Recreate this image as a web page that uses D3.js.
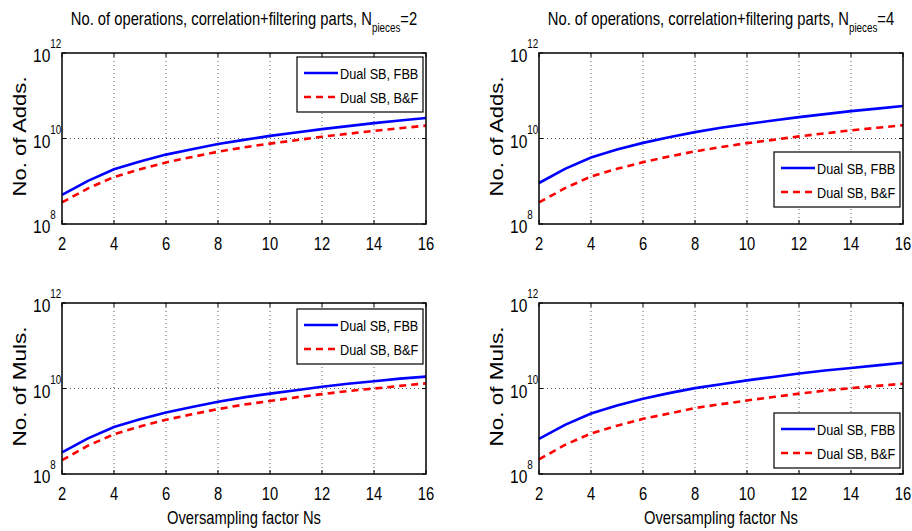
<!DOCTYPE html>
<html>
<head>
<meta charset="utf-8">
<script src="https://cdn.jsdelivr.net/npm/d3@7"></script>
<style>
  body { margin: 0; background: #fff; }
  text { font-family: "Liberation Sans", Arial, sans-serif; fill: #000; }
</style>
</head>
<body>
<script>
var w = 912;
var h = 531;

// data (Ns = 2..16)
var ns = [2, 3, 4, 5, 6, 7, 8, 9, 10, 11, 12, 13, 14, 15, 16];

var adds2FBB = [4.8e8, 1.02e9, 1.9e9, 2.9e9, 4.2e9, 5.6e9, 7.4e9, 9.3e9, 1.15e10, 1.38e10, 1.66e10, 1.95e10, 2.29e10, 2.63e10, 3.02e10];
var adds2BF = [3.2e8, 6.8e8, 1.26e9, 1.9e9, 2.75e9, 3.7e9, 4.9e9, 6.2e9, 7.6e9, 9.1e9, 1.1e10, 1.29e10, 1.51e10, 1.74e10, 2.0e10];
var adds4FBB = [9.1e8, 1.95e9, 3.6e9, 5.5e9, 7.9e9, 1.07e10, 1.41e10, 1.78e10, 2.19e10, 2.63e10, 3.16e10, 3.72e10, 4.37e10, 5.0e10, 5.75e10];
var adds4BF = [3.2e8, 6.9e8, 1.29e9, 1.95e9, 2.8e9, 3.8e9, 5.0e9, 6.3e9, 7.8e9, 9.3e9, 1.12e10, 1.32e10, 1.55e10, 1.78e10, 2.04e10];
var muls2FBB = [3.2e8, 6.8e8, 1.26e9, 1.9e9, 2.75e9, 3.7e9, 4.9e9, 6.2e9, 7.6e9, 9.1e9, 1.1e10, 1.29e10, 1.48e10, 1.7e10, 1.9e10];
var muls2BF = [2.1e8, 4.6e8, 8.5e8, 1.29e9, 1.86e9, 2.5e9, 3.3e9, 4.2e9, 5.1e9, 6.2e9, 7.4e9, 8.7e9, 1.0e10, 1.15e10, 1.32e10];
var muls4FBB = [6.6e8, 1.41e9, 2.6e9, 4.0e9, 5.75e9, 7.8e9, 1.02e10, 1.26e10, 1.55e10, 1.86e10, 2.24e10, 2.63e10, 3.02e10, 3.47e10, 4.0e10];
var muls4BF = [2.2e8, 4.8e8, 8.9e8, 1.35e9, 1.95e9, 2.6e9, 3.5e9, 4.3e9, 5.25e9, 6.3e9, 7.6e9, 8.9e9, 1.02e10, 1.15e10, 1.29e10];

var xTicks = [2, 4, 6, 8, 10, 12, 14, 16];
var yTicks = [1e8, 1e10, 1e12];
var seriesNames = ["Dual SB, FBB", "Dual SB, B&F"];
var seriesColors = ["#0000ff", "#ff0000"];

// panel layout
var panels = [
  { left: 62, top: 53, fbb: adds2FBB, bf: adds2BF, ylabel: "No. of Adds.", pieces: 2, legendTop: 57, xlabel: false },
  { left: 539, top: 53, fbb: adds4FBB, bf: adds4BF, ylabel: "No. of Adds.", pieces: 4, legendTop: 152, xlabel: false },
  { left: 62, top: 303, fbb: muls2FBB, bf: muls2BF, ylabel: "No. of Muls.", pieces: null, legendTop: 309, xlabel: true },
  { left: 539, top: 303, fbb: muls4FBB, bf: muls4BF, ylabel: "No. of Muls.", pieces: null, legendTop: 413, xlabel: true },
];
var pw = 364;
var ph = 171;
var narrow = 0.82; // no narrow font installed, squeeze Liberation Sans instead

var svg = d3.select("body").append("svg").attr("width", w).attr("height", h);

// condensed text anchored at (x, y)
function label(parent, x, y, anchor, size) {
  return parent
    .append("g")
    .attr("transform", `translate(${x},${y}) scale(${narrow},1)`)
    .append("text")
    .attr("text-anchor", anchor)
    .style("font-size", size + "px");
}

panels.forEach(function (p) {
  var xScale = d3.scaleLinear().domain([2, 16]).range([p.left, p.left + pw]);
  var yScale = d3.scaleLog().domain([1e8, 1e12]).range([p.top + ph, p.top]);
  var g = svg.append("g");

  // grid
  g.selectAll(".vgrid")
    .data(xTicks.slice(1, -1))
    .enter()
    .append("line")
    .attr("x1", (d) => xScale(d))
    .attr("x2", (d) => xScale(d))
    .attr("y1", p.top)
    .attr("y2", p.top + ph)
    .attr("stroke", "#333")
    .attr("stroke-width", 0.8)
    .attr("stroke-dasharray", "1,3");
  g.append("line")
    .attr("x1", p.left)
    .attr("x2", p.left + pw)
    .attr("y1", yScale(1e10))
    .attr("y2", yScale(1e10))
    .attr("stroke", "#333")
    .attr("stroke-width", 0.8)
    .attr("stroke-dasharray", "1,3");

  // ticks (inward, all four sides)
  xTicks.forEach(function (t) {
    g.append("line").attr("x1", xScale(t)).attr("x2", xScale(t))
      .attr("y1", p.top).attr("y2", p.top + 4).attr("stroke", "#000");
    g.append("line").attr("x1", xScale(t)).attr("x2", xScale(t))
      .attr("y1", p.top + ph).attr("y2", p.top + ph - 4).attr("stroke", "#000");
  });
  yTicks.forEach(function (t) {
    g.append("line").attr("x1", p.left).attr("x2", p.left + 4)
      .attr("y1", yScale(t)).attr("y2", yScale(t)).attr("stroke", "#000");
    g.append("line").attr("x1", p.left + pw).attr("x2", p.left + pw - 4)
      .attr("y1", yScale(t)).attr("y2", yScale(t)).attr("stroke", "#000");
  });

  // lines
  var line = d3.line()
    .x((d, i) => xScale(ns[i]))
    .y((d) => yScale(d));
  g.append("path")
    .attr("d", line(p.fbb))
    .attr("fill", "none")
    .attr("stroke", seriesColors[0])
    .attr("stroke-width", 2.6);
  g.append("path")
    .attr("d", line(p.bf))
    .attr("fill", "none")
    .attr("stroke", seriesColors[1])
    .attr("stroke-width", 2.6)
    .attr("stroke-dasharray", "7,5");

  // box
  g.append("rect")
    .attr("x", p.left)
    .attr("y", p.top)
    .attr("width", pw)
    .attr("height", ph)
    .attr("fill", "none")
    .attr("stroke", "#000")
    .attr("stroke-width", 1.5);

  // x tick labels
  xTicks.forEach(function (t) {
    label(g, xScale(t), p.top + ph + 26, "middle", 18).text(t);
  });

  // y tick labels 10^n
  yTicks.forEach(function (t) {
    var lab = label(g, p.left - 29, yScale(t) + 9, "start", 19);
    lab.append("tspan").text("10");
    lab.append("tspan")
      .attr("dy", -14)
      .style("font-size", "12px")
      .text(Math.round(Math.log10(t)));
  });

  // y label
  g.append("text")
    .attr("transform", `translate(${p.left - 36},${p.top + ph / 2 - 2}) rotate(-90)`)
    .attr("text-anchor", "middle")
    .attr("textLength", 120)
    .attr("lengthAdjust", "spacingAndGlyphs")
    .style("font-size", "18px")
    .text(p.ylabel);

  // title
  if (p.pieces) {
    var title = label(g, p.left + pw / 2, 25, "middle", 18);
    title.append("tspan").text("No. of operations, correlation+filtering parts, N");
    title.append("tspan").attr("dy", 7).style("font-size", "12px").text("pieces");
    title.append("tspan").attr("dy", -7).text("=" + p.pieces);
  }

  // x label
  if (p.xlabel) {
    label(g, p.left + pw / 2, p.top + ph + 50, "middle", 18).text("Oversampling factor Ns");
  }

  // legend
  var lx = p.left + pw - 129;
  var lg = g.append("g").attr("transform", `translate(${lx},${p.legendTop})`);
  lg.append("rect")
    .attr("width", 126)
    .attr("height", 55)
    .attr("fill", "#fff")
    .attr("stroke", "#000")
    .attr("stroke-width", 1.2);
  seriesNames.forEach(function (name, i) {
    var yy = 16 + i * 24;
    lg.append("line")
      .attr("x1", 7)
      .attr("x2", 41)
      .attr("y1", yy)
      .attr("y2", yy)
      .attr("stroke", seriesColors[i])
      .attr("stroke-width", 2.6)
      .attr("stroke-dasharray", i === 1 ? "7,5" : null);
    label(lg, 43, yy + 6, "start", 15.5).text(name);
  });
});
</script>
</body>
</html>
